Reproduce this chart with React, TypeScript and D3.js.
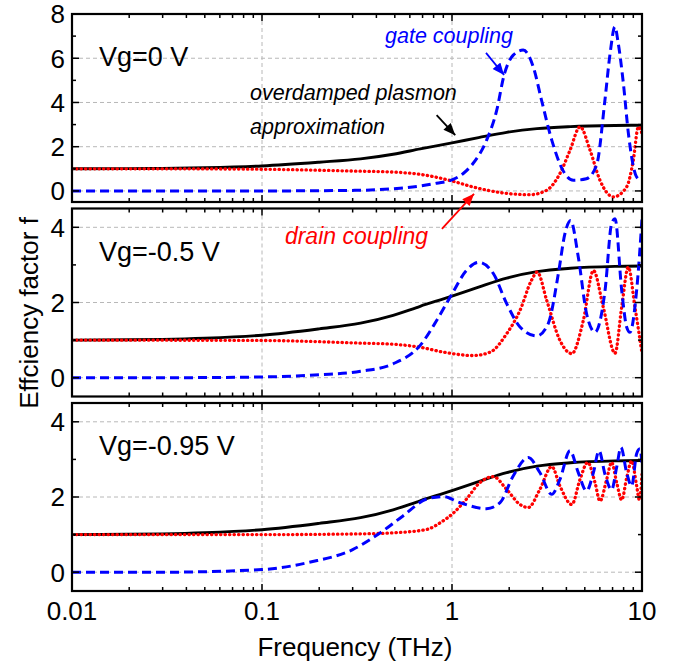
import React, { useEffect, useRef } from 'react';
import * as d3 from 'd3';

type Pt = [number, number];

// x axis (THz, log)
const xTicks = [0.01, 0.1, 1, 10];
const xTickLabels = ['0.01', '0.1', '1', '10'];

// panels
const panelLabels = ['Vg=0 V', 'Vg=-0.5 V', 'Vg=-0.95 V'];
const yDomains: Pt[] = [[-0.5, 8], [-0.5, 4.5], [-0.5, 4.5]];
const yMajor = [[0, 2, 4, 6, 8], [0, 2, 4], [0, 2, 4]];
const yMinor = [[1, 3, 5, 7], [1, 3], [1, 3]];

// overdamped plasmon approximation (same in every panel)
const overdamped: Pt[] = [
  [0.01, 1.0], [0.02, 1.01], [0.03, 1.02], [0.05, 1.05], [0.1, 1.13], [0.2, 1.3],
  [0.33, 1.45], [0.49, 1.66], [0.68, 1.9], [1.0, 2.17], [1.38, 2.41], [1.94, 2.65],
  [2.8, 2.82], [4.2, 2.91], [7.2, 2.96], [10, 2.97],
];

// Vg = 0 V
const gate0: Pt[] = [
  [0.01, 0], [0.03, 0], [0.1, 0.0], [0.33, 0.03], [0.49, 0.1], [0.68, 0.22], [0.83, 0.35],
  [1.0, 0.5], [1.15, 0.8], [1.29, 1.24], [1.52, 2.29], [1.72, 3.65], [1.88, 5.24],
  [2.1, 6.14], [2.37, 6.37], [2.68, 5.6], [2.96, 4.1], [3.35, 2.3], [3.83, 0.94],
  [4.35, 0.48], [5.1, 0.55], [5.78, 1.2], [6.38, 4.1], [6.79, 6.2], [7.2, 7.42],
  [7.5, 6.67], [7.98, 4.86], [8.48, 2.6], [9.37, 0.63], [10, 0.45],
];
const drain0: Pt[] = [
  [0.01, 1.0], [0.03, 1.0], [0.1, 0.98], [0.3, 0.9], [0.5, 0.85], [0.74, 0.7], [1.0, 0.45],
  [1.29, 0.18], [1.86, -0.09], [2.57, -0.17], [3.15, 0.03], [3.7, 0.79], [4.18, 1.84],
  [4.72, 2.9], [5.33, 1.84], [6.01, 0.48], [7.07, -0.27], [8.3, 0.18], [9.0, 1.39],
  [9.57, 2.9], [10, 2.6],
];

// Vg = -0.5 V
const gate05: Pt[] = [
  [0.01, 0], [0.03, 0], [0.1, 0.02], [0.2, 0.08], [0.33, 0.17], [0.49, 0.37], [0.68, 0.86],
  [0.83, 1.52], [1.0, 2.23], [1.19, 2.85], [1.38, 3.07], [1.65, 2.77], [1.94, 1.97],
  [2.28, 1.35], [2.79, 1.11], [3.21, 1.44], [3.63, 2.77], [3.93, 3.83], [4.21, 4.18],
  [4.62, 3.21], [5.11, 1.7], [5.66, 1.21], [6.39, 2.32], [6.92, 4.1], [7.21, 4.23],
  [7.82, 2.32], [8.3, 1.35], [8.64, 1.21], [9.37, 2.32], [10, 4.23],
];
const drain05: Pt[] = [
  [0.01, 1.0], [0.1, 0.99], [0.33, 0.92], [0.49, 0.89], [0.68, 0.81], [0.9, 0.68],
  [1.29, 0.59], [1.59, 0.68], [1.94, 1.17], [2.28, 1.79], [2.62, 2.59], [2.81, 2.81],
  [3.15, 2.06], [3.7, 0.99], [4.27, 0.64], [4.91, 1.52], [5.55, 2.85], [6.25, 1.88],
  [7.21, 0.65], [7.82, 1.88], [8.47, 2.94], [9.18, 1.88], [10, 0.65],
];

// Vg = -0.95 V
const gate095: Pt[] = [
  [0.01, 0], [0.03, 0.0], [0.1, 0.07], [0.18, 0.27], [0.3, 0.6], [0.42, 1.05], [0.55, 1.49],
  [0.74, 1.95], [0.9, 2.01], [1.1, 1.85], [1.52, 1.69], [1.79, 1.85], [2.1, 2.56],
  [2.52, 3.05], [2.9, 2.65], [3.35, 2.07], [3.7, 2.47], [4.18, 3.23], [4.62, 2.65],
  [5.11, 2.16], [5.55, 2.65], [5.94, 3.23], [6.39, 2.6], [6.92, 2.19], [7.36, 2.8],
  [7.75, 3.32], [8.3, 2.65], [8.82, 2.29], [9.37, 3.15], [9.75, 3.28], [10, 2.9],
];
const drain095: Pt[] = [
  [0.01, 1.0], [0.1, 1.0], [0.33, 1.02], [0.5, 1.05], [0.74, 1.14], [0.87, 1.32],
  [1.02, 1.58], [1.19, 1.94], [1.4, 2.38], [1.65, 2.54], [1.94, 2.2], [2.28, 1.8],
  [2.52, 1.72], [2.9, 2.2], [3.35, 2.81], [3.7, 2.29], [4.27, 1.8], [4.72, 2.47],
  [5.18, 2.92], [5.66, 2.38], [6.01, 1.89], [6.52, 2.47], [6.92, 2.92], [7.36, 2.38],
  [7.82, 1.92], [8.3, 2.5], [8.82, 2.96], [9.37, 2.3], [9.69, 1.92], [10, 2.6],
];

const gateSeries = [gate0, gate05, gate095];
const drainSeries = [drain0, drain05, drain095];

const W = 673;
const H = 668;
const left = 72;
const right = 642;
const panelTops = [14, 208.5, 403];
const panelH = 188;
const font = '"Liberation Sans", Arial, sans-serif';

const App = () => {
  const ref = useRef<SVGSVGElement>(null);

  useEffect(() => {
    const svg = d3.select(ref.current);
    svg.selectAll('*').remove();

    const x = d3.scaleLog().domain([0.01, 10]).range([left, right]);
    const allTicks = x.ticks();

    const defs = svg.append('defs');
    const arrow = (id: string, color: string) => {
      defs.append('marker')
        .attr('id', id)
        .attr('viewBox', '0 0 12 10')
        .attr('refX', 12)
        .attr('refY', 5)
        .attr('markerUnits', 'userSpaceOnUse')
        .attr('markerWidth', 13)
        .attr('markerHeight', 10)
        .attr('orient', 'auto')
        .append('path')
        .attr('d', 'M0,0 L12,5 L0,10 Z')
        .attr('fill', color);
    };
    arrow('ah-blue', '#0000ff');
    arrow('ah-black', '#000');
    arrow('ah-red', '#ff0000');

    const ys: d3.ScaleLinear<number, number>[] = [];

    panelTops.forEach((top, i) => {
      const bottom = top + panelH;
      const y = d3.scaleLinear().domain(yDomains[i]).range([bottom, top]);
      ys.push(y);
      const g = svg.append('g');

      defs.append('clipPath').attr('id', `clip${i}`)
        .append('rect').attr('x', left).attr('y', top)
        .attr('width', right - left).attr('height', panelH);

      // grid
      [0.1, 1].forEach((t) => {
        g.append('line')
          .attr('x1', x(t)).attr('x2', x(t)).attr('y1', top).attr('y2', bottom)
          .attr('stroke', '#b8b8b8').attr('stroke-width', 1).attr('stroke-dasharray', '4,3');
      });
      yMajor[i].filter((v) => v < yDomains[i][1]).forEach((v) => {
        g.append('line')
          .attr('x1', left).attr('x2', right).attr('y1', y(v)).attr('y2', y(v))
          .attr('stroke', '#b8b8b8').attr('stroke-width', 1).attr('stroke-dasharray', '4,3');
      });

      // curves
      const line = d3.line<Pt>()
        .x((d) => x(d[0]))
        .y((d) => y(d[1]))
        .curve(d3.curveMonotoneX);
      const curves = g.append('g').attr('clip-path', `url(#clip${i})`);
      curves.append('path').attr('d', line(overdamped)).attr('fill', 'none')
        .attr('stroke', '#000').attr('stroke-width', 2.9);
      curves.append('path').attr('d', line(drainSeries[i])).attr('fill', 'none')
        .attr('stroke', '#ff0000').attr('stroke-width', 3.3)
        .attr('stroke-linecap', 'round').attr('stroke-dasharray', '0.4,4.1');
      curves.append('path').attr('d', line(gateSeries[i])).attr('fill', 'none')
        .attr('stroke', '#0000ff').attr('stroke-width', 3)
        .attr('stroke-dasharray', '9,5');

      // x ticks (top and bottom, inward)
      allTicks.forEach((t) => {
        const major = Math.abs(Math.log10(t) - Math.round(Math.log10(t))) < 1e-6;
        const len = major ? 7 : 4;
        g.append('line').attr('x1', x(t)).attr('x2', x(t))
          .attr('y1', bottom).attr('y2', bottom - len)
          .attr('stroke', '#000').attr('stroke-width', 1.5);
        g.append('line').attr('x1', x(t)).attr('x2', x(t))
          .attr('y1', top).attr('y2', top + len)
          .attr('stroke', '#000').attr('stroke-width', 1.5);
      });

      // y ticks (left and right, inward)
      const yt = [...yMajor[i].map((v) => [v, 7]), ...yMinor[i].map((v) => [v, 4])];
      yt.forEach(([v, len]) => {
        g.append('line').attr('x1', left).attr('x2', left + len)
          .attr('y1', y(v)).attr('y2', y(v)).attr('stroke', '#000').attr('stroke-width', 1.5);
        g.append('line').attr('x1', right).attr('x2', right - len)
          .attr('y1', y(v)).attr('y2', y(v)).attr('stroke', '#000').attr('stroke-width', 1.5);
      });

      // frame
      g.append('rect').attr('x', left).attr('y', top)
        .attr('width', right - left).attr('height', panelH)
        .attr('fill', 'none').attr('stroke', '#000').attr('stroke-width', 2.2);

      // y tick labels
      yMajor[i].forEach((v) => {
        g.append('text').attr('x', 65).attr('y', y(v)).attr('dy', '0.36em')
          .attr('text-anchor', 'end').attr('font-family', font).attr('font-size', 26)
          .text(String(v));
      });

      // panel label
      g.append('text').attr('x', 99).attr('y', top + 52)
        .attr('font-family', font).attr('font-size', 27)
        .text(panelLabels[i]);
    });

    // annotations
    const y0 = ys[0];
    const y1 = ys[1];
    const note = (tx: number, ty: number, txt: string, color: string, size: number) => {
      svg.append('text').attr('x', tx).attr('y', ty)
        .attr('font-family', font).attr('font-style', 'italic')
        .attr('font-size', size).attr('fill', color).text(txt);
    };
    note(x(0.444), y0(6.67), 'gate coupling', '#0000ff', 21.5);
    note(x(0.0865), y0(4.1), 'overdamped plasmon', '#000', 21.5);
    note(x(0.0865), y0(2.57), 'approximation', '#000', 21.5);
    note(x(0.132), y1(3.56), 'drain coupling', '#ff0000', 23);

    const pointer = (f1: number, v1: number, f2: number, v2: number,
      y: d3.ScaleLinear<number, number>, color: string, id: string) => {
      svg.append('line')
        .attr('x1', x(f1)).attr('y1', y(v1)).attr('x2', x(f2)).attr('y2', y(v2))
        .attr('stroke', color).attr('stroke-width', 1.8)
        .attr('marker-end', `url(#${id})`);
    };
    pointer(1.51, 6.24, 1.88, 5.24, y0, '#0000ff', 'ah-blue');
    pointer(0.83, 3.43, 1.04, 2.52, y0, '#000', 'ah-black');
    pointer(0.885, 3.96, 1.306, 4.89, y1, '#ff0000', 'ah-red');

    // x tick labels
    xTicks.forEach((t, k) => {
      svg.append('text').attr('x', x(t)).attr('y', 620)
        .attr('text-anchor', 'middle').attr('font-family', font).attr('font-size', 26)
        .text(xTickLabels[k]);
    });

    // axis titles
    svg.append('text').attr('x', 355).attr('y', 656)
      .attr('text-anchor', 'middle').attr('font-family', font).attr('font-size', 26)
      .text('Frequency (THz)');
    svg.append('text').attr('transform', 'translate(38,313) rotate(-90)')
      .attr('text-anchor', 'middle').attr('font-family', font).attr('font-size', 26)
      .text('Effciency factor f');
  }, []);

  return (
    <svg
      ref={ref}
      width={W}
      height={H}
      style={{ position: 'absolute', left: 0, top: 0, background: '#fff' }}
    />
  );
};

export default App;
